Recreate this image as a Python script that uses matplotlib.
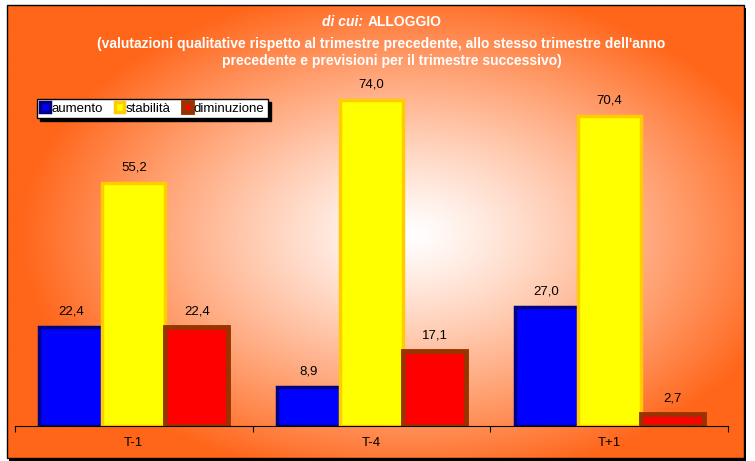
import numpy as np
import matplotlib
matplotlib.use("Agg")
from matplotlib import pyplot as plt
from matplotlib.patches import Rectangle

plt.rcParams["font.family"] = ["Liberation Sans", "DejaVu Sans"]

categories = ["T-1", "T-4", "T+1"]
series_names = ["aumento", "stabilità", "diminuzione"]
aumento = [22.4, 8.9, 27.0]
stabilita = [55.2, 74.0, 70.4]
diminuzione = [22.4, 17.1, 2.7]

face_colors = ["#0000FF", "#FFFF00", "#FF0000"]
edge_colors = ["#000080", "#FFCC00", "#993300"]
edge_widths = [2.5, 2.5, 3.5]

W, H = 755, 461
fig = plt.figure(figsize=(W / 100, H / 100), dpi=100)
fig.patch.set_facecolor("white")

# radial background inside the frame
bg = fig.add_axes([7 / W, 1 - 458 / H, (744 - 7) / W, (458 - 5) / H], zorder=0)
xx, yy = np.meshgrid(np.linspace(7, 744, 400), np.linspace(5, 458, 300))
d = np.sqrt(((xx - 410) / 390) ** 2 + ((yy - 235) / 250) ** 2)
t = np.clip(d, 0, 1) ** 1.2
outer = np.array([255, 102, 26]) / 255
inner = np.array([255, 255, 255]) / 255
img = inner[None, None, :] * (1 - t[..., None]) + outer[None, None, :] * t[..., None]
bg.imshow(img, aspect="auto", extent=[0, 1, 0, 1])
bg.set_axis_off()

# frame with shadow
fig.patches.append(Rectangle((9 / W, 1 - 461 / H), 737 / W, 453 / H, transform=fig.transFigure,
                             facecolor="black", edgecolor="none", zorder=-1))
fig.patches.append(Rectangle((7 / W, 1 - 458 / H), 737 / W, 453 / H, transform=fig.transFigure,
                             facecolor="none", edgecolor="black", linewidth=1, zorder=5))

ax = fig.add_axes([15 / W, 1 - 426 / H, (728 - 15) / W, 352 / H], zorder=2)
ax.patch.set_alpha(0)

x = np.arange(len(categories))
bw = 0.265
for i, vals in enumerate([aumento, stabilita, diminuzione]):
    pos = x + (i - 1) * bw
    ax.bar(pos, vals, bw, color=face_colors[i], edgecolor=edge_colors[i],
           linewidth=edge_widths[i], label=series_names[i], zorder=3)
    for px, v in zip(pos, vals):
        ax.annotate("{:.1f}".format(v).replace(".", ","), (px, v), textcoords="offset points",
                    xytext=(0, 7), ha="center", va="bottom", fontsize=9.5, color="black")

ax.set_xlim(-0.5, 2.5)
ax.set_ylim(0, 80)
ax.set_xticks([-0.5, 0.5, 1.5, 2.5])
ax.set_xticklabels([])
ax.set_xticks(x, minor=True)
ax.set_xticklabels(categories, minor=True, fontsize=9.5)
ax.tick_params(axis="x", which="minor", length=0, pad=8)
ax.tick_params(axis="x", which="major", length=4, direction="out", color="black")
ax.set_yticks([])
for s in ["top", "right", "left"]:
    ax.spines[s].set_visible(False)
ax.spines["bottom"].set_color("black")
ax.spines["bottom"].set_zorder(4)

leg = ax.legend(loc="upper left", bbox_to_anchor=(37 / W, 1 - 99 / H), bbox_transform=fig.transFigure,
                ncol=3, fontsize=9.5, frameon=True, fancybox=False, shadow={"color": "black", "alpha": 1},
                handlelength=0.7, handleheight=0.7, handletextpad=0.15, columnspacing=0.9,
                borderpad=0.25, borderaxespad=0)
leg.get_frame().set_edgecolor("black")
leg.get_frame().set_linewidth(1)
leg.get_frame().set_facecolor("white")

fig.text(363 / W, 1 - 22 / H, "di cui:", ha="right", va="center", color="white",
         fontsize=10, fontweight="bold", fontstyle="italic")
fig.text(368 / W, 1 - 22 / H, "ALLOGGIO", ha="left", va="center", color="white",
         fontsize=10, fontweight="bold")
fig.text(381 / W, 1 - 44 / H,
         "(valutazioni qualitative rispetto al trimestre precedente, allo stesso trimestre dell'anno",
         ha="center", va="center", color="white", fontsize=10, fontweight="bold")
fig.text(392 / W, 1 - 61 / H, "precedente e previsioni per il trimestre successivo)",
         ha="center", va="center", color="white", fontsize=10, fontweight="bold")

fig.savefig("out.png", dpi=100)
